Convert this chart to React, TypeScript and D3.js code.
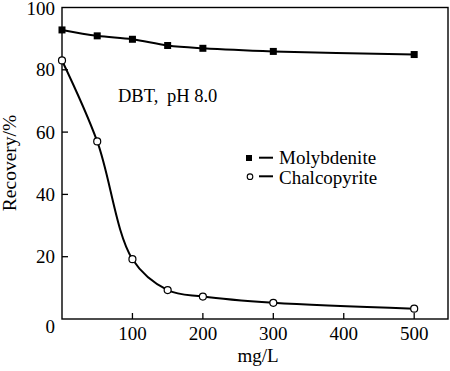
import React from 'react';
import * as d3 from 'd3';

// dosage in mg/L
const dosage = [0, 50, 100, 150, 200, 300, 500];
const molybdenite = [92.8, 90.9, 89.8, 87.8, 86.9, 85.9, 84.9];
const chalcopyrite = [83.0, 57.0, 19.2, 9.3, 7.2, 5.2, 3.3];
const xTicks = [100, 200, 300, 400, 500];
const yTicks = [0, 20, 40, 60, 80, 100];

const W = 450;
const H = 371;
const font = '"Liberation Serif", "Times New Roman", serif';
const fs = 19;

function App() {
  const x = d3.scaleLinear().domain([0, 548]).range([62, 448]);
  const y = d3.scaleLinear().domain([0, 100]).range([319, 7.5]);

  const line = d3
    .line<number>()
    .x((d, i) => x(dosage[i]))
    .y(d => y(d))
    .curve(d3.curveCatmullRom.alpha(0.5));

  return (
    <div style={{ position: 'absolute', left: 0, top: 0 }}>
      <svg width={W} height={H} style={{ display: 'block', background: '#fff' }}>
        {/* frame */}
        <rect x={x(0)} y={y(100)} width={x(548) - x(0)} height={y(0) - y(100)}
          fill="none" stroke="#000" strokeWidth={1.4} />

        {/* x ticks, pointing inward */}
        {xTicks.map(t => (
          <g key={'x' + t}>
            <line x1={x(t)} x2={x(t)} y1={y(0)} y2={y(0) - 6} stroke="#000" strokeWidth={1.3} />
            <text x={x(t)} y={340} textAnchor="middle" fontFamily={font} fontSize={fs}>{t}</text>
          </g>
        ))}

        {/* y ticks */}
        {yTicks.map(t => (
          <g key={'y' + t}>
            {t > 0 && t < 100 && (
              <line x1={x(0)} x2={x(0) + 6} y1={y(t)} y2={y(t)} stroke="#000" strokeWidth={1.3} />
            )}
            <text x={55} y={y(t) + (t === 0 ? 14 : t === 100 ? 7.5 : 6.5)} textAnchor="end" fontFamily={font} fontSize={fs}>{t}</text>
          </g>
        ))}

        <text x={258} y={362} textAnchor="middle" fontFamily={font} fontSize={fs}>mg/L</text>
        <text transform="translate(16,163) rotate(-90)" textAnchor="middle" fontFamily={font} fontSize={19.5}>Recovery/%</text>

        <text x={118} y={101.5} fontFamily={font} fontSize={18.5}>
          DBT,<tspan dx={4}> pH 8.0</tspan>
        </text>

        {/* series */}
        <path d={line(molybdenite) || ''} fill="none" stroke="#000" strokeWidth={2} />
        <path d={line(chalcopyrite) || ''} fill="none" stroke="#000" strokeWidth={2} />

        {molybdenite.map((v, i) => (
          <rect key={'m' + i} x={x(dosage[i]) - 3.5} y={y(v) - 3.5} width={7} height={7} fill="#000" />
        ))}
        {chalcopyrite.map((v, i) => (
          <circle key={'c' + i} cx={x(dosage[i])} cy={y(v)} r={3.5} fill="#fff" stroke="#000" strokeWidth={1.2} />
        ))}

        {/* legend */}
        <rect x={246} y={155} width={6} height={6} fill="#000" />
        <line x1={259} x2={273} y1={157.7} y2={157.7} stroke="#000" strokeWidth={2} />
        <text x={279} y={164} fontFamily={font} fontSize={fs}>Molybdenite</text>

        <circle cx={250} cy={176.7} r={2.8} fill="#fff" stroke="#000" strokeWidth={1.1} />
        <line x1={259} x2={273} y1={176.3} y2={176.3} stroke="#000" strokeWidth={2} />
        <text x={279} y={184} fontFamily={font} fontSize={fs}>Chalcopyrite</text>
      </svg>
    </div>
  );
}

export default App;
